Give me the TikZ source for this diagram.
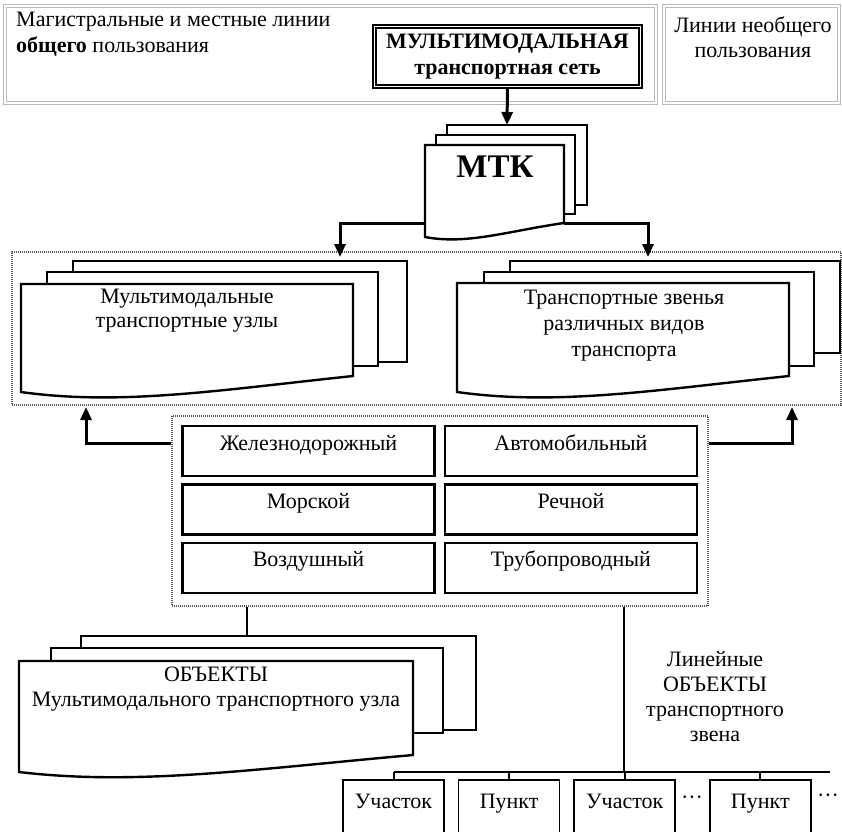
\documentclass[tikz,border=0pt]{standalone}
\usepackage{fontspec}
\setmainfont{Liberation Serif}
\usetikzlibrary{arrows.meta,positioning}

\tikzset{
  every node/.style={font=\fontsize{22}{25}\selectfont, inner sep=0pt},
  grayframe/.style={draw=gray!55, double=white, line width=1.2pt, double distance=2pt},
  dotframe/.style={draw=gray!70!black, dash pattern=on 1pt off 1pt, line width=1.3pt},
  netbox/.style={draw, line width=1.6pt, double=white, double distance=1.6pt,
    minimum width=266pt, minimum height=60pt, align=center,
    font=\fontsize{22}{26}\selectfont\bfseries},
  page/.style={draw, line width=2.4pt, fill=white},
  modebox/.style={draw, line width=2.4pt, minimum width=252pt,
    text height=24pt, text depth=26pt},
  itembox/.style={draw, line width=1.6pt, minimum width=101pt,
    text height=28pt, text depth=30pt},
  link/.style={line width=3pt, -{Triangle[length=13pt,width=11pt]}},
  wire/.style={line width=2pt}
}

\begin{document}
\begin{tikzpicture}[x=1pt,y=-1pt]
\useasboundingbox (0,0) rectangle (842,831);
\clip (0,0) rectangle (842,831);

% network level
\draw[grayframe] (5,6) rectangle (656,103);
\draw[grayframe] (664,6) rectangle (839,103);
\node[anchor=west] (mainlines) at (16,22) {Магистральные и местные линии};
\node[anchor=west] (publicuse) at (16,47) {\textbf{общего} пользования};
\node[align=center] (privlines) at (753,37) {Линии необщего\\пользования};
\node[netbox] (mmnet) at (507.5,56.5) {МУЛЬТИМОДАЛЬНАЯ\\транспортная сеть};

% MTK
\draw[page] (447,125) rectangle (587,205);
\draw[page] (436,135) rectangle (575,214);
\draw[page] (425,145) -- (564,145) -- (564,223)
  .. controls (508,231) and (467,245) .. (425,237) -- cycle;
\node[font=\fontsize{33}{36}\selectfont\bfseries] (mtk) at (495,167) {МТК};
\coordinate (mtkin) at (507,125);
\coordinate (mtkleft) at (425,223);
\coordinate (mtkright) at (564,223);
\draw[link] (mmnet.south) -- (mtkin);

% nodes and links
\node[dotframe, minimum width=829pt, minimum height=153pt] (level2) at (426.5,328.5) {};
\draw[page] (73,261) rectangle (407,362);
\draw[page] (47,272) rectangle (378,366);
\draw[page] (21,284) -- (353,284) -- (353,376)
  .. controls (220,390) and (121,406) .. (21,392) -- cycle;
\node[align=center, font=\fontsize{22}{24}\selectfont] (mmnodes) at (187,311)
  {Мультимодальные\\транспортные узлы};

\draw[page] (510,261) rectangle (840,353);
\draw[page] (484,272) rectangle (814,366);
\draw[page] (457,283) -- (789,283) -- (789,376)
  .. controls (656,390) and (557,406) .. (457,392) -- cycle;
\node[align=center, font=\fontsize{22}{26}\selectfont] (tlinks) at (624,326)
  {Транспортные звенья\\различных видов\\транспорта};

\coordinate (nodesin) at (340,257);
\coordinate (linksin) at (648,257);
\draw[link] (mtkleft) -| (nodesin);
\draw[link] (mtkright) -| (linksin);

% transport modes
\node[dotframe, minimum width=536pt, minimum height=190pt] (modes) at (440,511) {};
\node[modebox] (rail) at (308.5,451) {Железнодорожный};
\node[modebox, right=8pt of rail] (road) {Автомобильный};
\node[modebox, below=6pt of rail] (sea) {Морской};
\node[modebox, below=6pt of road] (river) {Речной};
\node[modebox, below=6pt of sea] (air) {Воздушный};
\node[modebox, below=6pt of river] (pipe) {Трубопроводный};

\coordinate (nodesup) at (86,407);
\coordinate (linksup) at (792,407);
\draw[link] ([yshift=-28pt]modes.north west) -| (nodesup);
\draw[link] ([yshift=-28pt]modes.north east) -| (linksup);

% node objects
\draw[page] (81,636) rectangle (476,730);
\draw[page] (51,648) rectangle (443,733);
\draw[page] (19,661) -- (413,661) -- (413,755)
  .. controls (255,769) and (137,786) .. (19,772) -- cycle;
\node[align=center] (objects) at (216,689.5)
  {ОБЪЕКТЫ\\Мультимодального транспортного узла};
\coordinate (objin) at (247,636);
\draw[wire] (modes.south -| objin) -- (objin);

% linear objects
\coordinate (bus) at (624,772);
\coordinate (busend) at (830,772);
\draw[wire] (modes.south -| bus) -- (bus);
\node[align=center] (linear) at (715,697) {Линейные\\ОБЪЕКТЫ\\транспортного\\звена};
\node[itembox] (sec1) at (393.5,809) {Участок};
\node[itembox, right=13pt of sec1] (pt1) {Пункт};
\node[itembox, right=13pt of pt1] (sec2) {Участок};
\node[itembox, right=33pt of sec2] (pt2) {Пункт};
\node (dots1) at (692,800) {···};
\node (dots2) at (828,798) {···};
\draw[wire] (sec1.north |- bus) -- (busend);
\foreach \b in {sec1,pt1,sec2,pt2}
  \draw[wire] (\b.north) -- (\b.north |- bus);
\end{tikzpicture}
\end{document}
